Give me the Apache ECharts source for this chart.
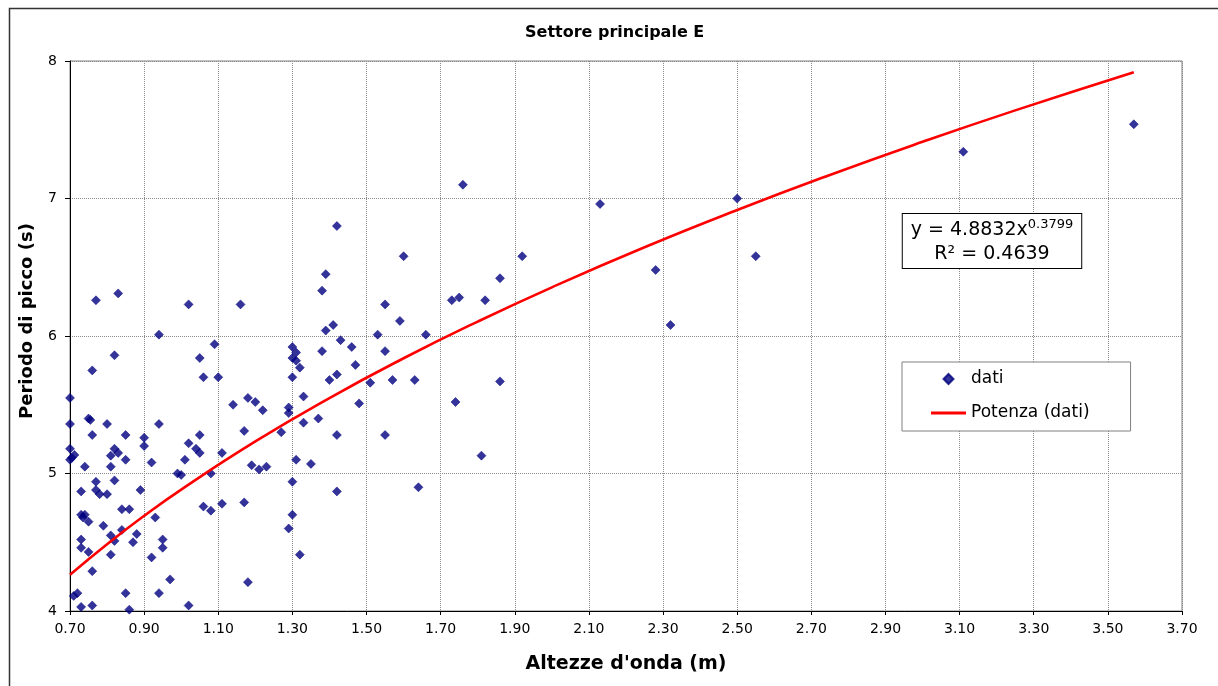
<!DOCTYPE html>
<html><head><meta charset="utf-8">
<script src="https://cdn.jsdelivr.net/npm/echarts@6/dist/echarts.min.js"></script>
<style>html,body{margin:0;padding:0;background:#fff}#c{width:1218px;height:686px}</style>
</head><body><div id="c"></div>
<script>
const titleText = 'Settore principale E';
const xAxisName = "Altezze d'onda (m)";
const yAxisName = 'Periodo di picco (s)';
const scatterName = 'dati';
const trendName = 'Potenza (dati)';
const equationText = 'y = 4.8832x';
const equationExp = '0.3799';
const r2Text = 'R² = 0.4639';

// wave height (m)
const heights = [
 0.77,0.83,1.02,1.16,0.94,1.09,0.82,1.05,0.76,1.06,1.10,0.70,1.14,1.18,1.20,0.70,0.75,0.755,0.80,0.94,
 0.76,0.85,1.05,1.17,0.70,0.70,0.705,0.712,0.74,0.82,0.83,0.81,0.85,0.81,0.90,0.90,0.92,1.02,1.01,1.04,
 1.05,1.11,0.99,1.00,1.08,0.77,0.77,0.78,0.80,0.82,0.73,0.89,0.73,0.74,0.735,0.75,0.79,0.84,0.86,0.93,
 1.06,1.08,1.11,1.17,0.73,0.73,0.75,0.81,0.82,0.84,0.88,0.87,0.81,0.76,0.92,0.95,0.95,0.97,0.71,0.72,
 0.73,0.76,0.85,0.86,0.94,1.02,1.18,1.19,1.21,1.23,1.38,1.39,1.41,1.53,1.30,1.31,1.30,1.31,1.32,1.30,
 1.38,1.43,1.46,1.47,1.40,1.42,1.51,1.48,1.22,1.33,1.29,1.29,1.33,1.37,1.27,1.42,1.31,1.35,1.30,1.42,
 1.30,1.29,1.32,1.42,1.60,1.39,1.55,1.59,1.73,1.75,1.82,1.86,1.66,1.55,1.57,1.63,1.86,1.74,1.55,1.81,
 1.64,1.76,2.13,1.92,2.28,2.32,2.50,2.55,3.11,3.57
];
// peak period (s)
const periods = [
 6.26,6.31,6.23,6.23,6.01,5.94,5.86,5.84,5.75,5.70,5.70,5.55,5.50,5.55,5.52,5.36,5.40,5.39,5.36,5.36,
 5.28,5.28,5.28,5.31,5.18,5.10,5.115,5.135,5.05,5.18,5.15,5.13,5.10,5.05,5.26,5.20,5.08,5.22,5.10,5.18,
 5.15,5.15,5.00,4.99,5.00,4.94,4.88,4.85,4.85,4.95,4.87,4.88,4.70,4.70,4.68,4.65,4.62,4.74,4.74,4.68,
 4.76,4.73,4.78,4.79,4.52,4.46,4.43,4.55,4.51,4.59,4.56,4.50,4.41,4.29,4.39,4.52,4.46,4.23,4.11,4.13,
 4.03,4.04,4.13,4.01,4.13,4.04,4.21,5.06,5.03,5.05,6.33,6.04,6.08,6.01,5.92,5.88,5.84,5.82,5.77,5.70,
 5.89,5.97,5.92,5.79,5.68,5.72,5.66,5.51,5.46,5.56,5.48,5.44,5.37,5.40,5.30,5.28,5.10,5.07,4.94,4.87,
 4.70,4.60,4.41,6.80,6.58,6.45,6.23,6.11,6.26,6.28,6.26,6.42,6.01,5.89,5.68,5.68,5.67,5.52,5.28,5.13,
 4.90,7.10,6.96,6.58,6.48,6.08,7.00,6.58,7.34,7.54
];
// power trend line
const trendX = [0.70,0.80,0.90,1.00,1.20,1.40,1.60,1.80,2.00,2.25,2.50,2.75,3.00,3.25,3.57];
const trendY = [4.264,4.486,4.692,4.883,5.233,5.549,5.838,6.105,6.354,6.645,6.916,7.171,7.412,7.641,7.919];

const xMin = 0.7, xMax = 3.7, xStep = 0.2;
const yMin = 4, yMax = 8, yStep = 1;

const FONT = 'DejaVu Sans';
const scatterData = heights.map((h, i) => [h, periods[i]]);
const trendData = trendX.map((x, i) => [x, trendY[i]]);

const chart = echarts.init(document.getElementById('c'), null, {renderer: 'canvas'});
chart.setOption({
  animation: false,
  backgroundColor: '#fff',
  title: {
    text: titleText, left: 525, top: 25, padding: 0,
    textStyle: {fontFamily: FONT, fontWeight: 'bold', fontSize: 16, color: '#000'}
  },
  grid: {left: 70, top: 61, width: 1112, height: 550, show: true, borderColor: '#808080', borderWidth: 1, containLabel: false},
  xAxis: {
    type: 'value', min: xMin, max: xMax, interval: xStep,
    name: xAxisName, nameLocation: 'middle', nameGap: 44,
    nameTextStyle: {fontFamily: FONT, fontWeight: 'bold', fontSize: 19, color: '#000'},
    axisLine: {show: true, lineStyle: {color: '#000', width: 1}},
    axisTick: {show: true, length: 4, lineStyle: {color: '#000'}},
    axisLabel: {fontFamily: FONT, fontSize: 14, color: '#000', margin: 11, formatter: v => v.toFixed(2)},
    splitLine: {show: true, lineStyle: {color: '#8a8a8a', type: [1, 1], width: 1}}
  },
  yAxis: {
    type: 'value', min: yMin, max: yMax, interval: yStep,
    name: yAxisName, nameLocation: 'middle', nameGap: 34, nameRotate: 90,
    nameTextStyle: {fontFamily: FONT, fontWeight: 'bold', fontSize: 18, color: '#000', padding: [0, 0, 0, 30]},
    axisLine: {show: true, lineStyle: {color: '#000', width: 1}},
    axisTick: {show: true, length: 5, lineStyle: {color: '#000'}},
    axisLabel: {fontFamily: FONT, fontSize: 14, color: '#000', margin: 13},
    splitLine: {show: true, lineStyle: {color: '#8a8a8a', type: [1, 1], width: 1}}
  },
  legend: {
    orient: 'vertical', left: 902, top: 362,
    padding: [7, 41, 8, 29], itemGap: 14, itemWidth: 35, itemHeight: 10,
    symbolKeepAspect: true,
    borderColor: '#808080', borderWidth: 1, backgroundColor: '#fff',
    textStyle: {fontFamily: FONT, fontSize: 17, color: '#000', lineHeight: 20},
    data: [
      {name: scatterName, icon: 'path://M5,0L10,5L5,10L0,5Z'},
      {name: trendName, icon: 'path://M0,0H35V3H0Z'}
    ]
  },
  graphic: [
    {type: 'rect', left: 7, top: 6, z: -1, silent: true,
     shape: {width: 1210, height: 700}, style: {fill: 'none', stroke: '#333', lineWidth: 1.5}},
    {type: 'text', x: 992, y: 214, z: 10, silent: true,
     style: {
       text: '{a|' + equationText + '}{s|' + equationExp + '}\n{a|' + r2Text + '}',
       align: 'center', verticalAlign: 'top',
       backgroundColor: '#fff', borderColor: '#000', borderWidth: 1, padding: [4, 8, 2, 8],
       rich: {
         a: {fontFamily: FONT, fontSize: 19, lineHeight: 24, fill: '#000', align: 'center'},
         s: {fontFamily: FONT, fontSize: 13, lineHeight: 14, fill: '#000', verticalAlign: 'top', align: 'center'}
       }
     }}
  ],
  series: [
    {name: scatterName, type: 'scatter', data: scatterData, symbol: 'diamond', symbolSize: 9,
     itemStyle: {color: '#000080', borderColor: '#000080', borderWidth: 0.6}, z: 3},
    {name: trendName, type: 'line', data: trendData, smooth: true, showSymbol: false, symbol: 'none',
     lineStyle: {color: '#ff0000', width: 2.6}, itemStyle: {color: '#ff0000'}, z: 4}
  ]
});
</script></body></html>
